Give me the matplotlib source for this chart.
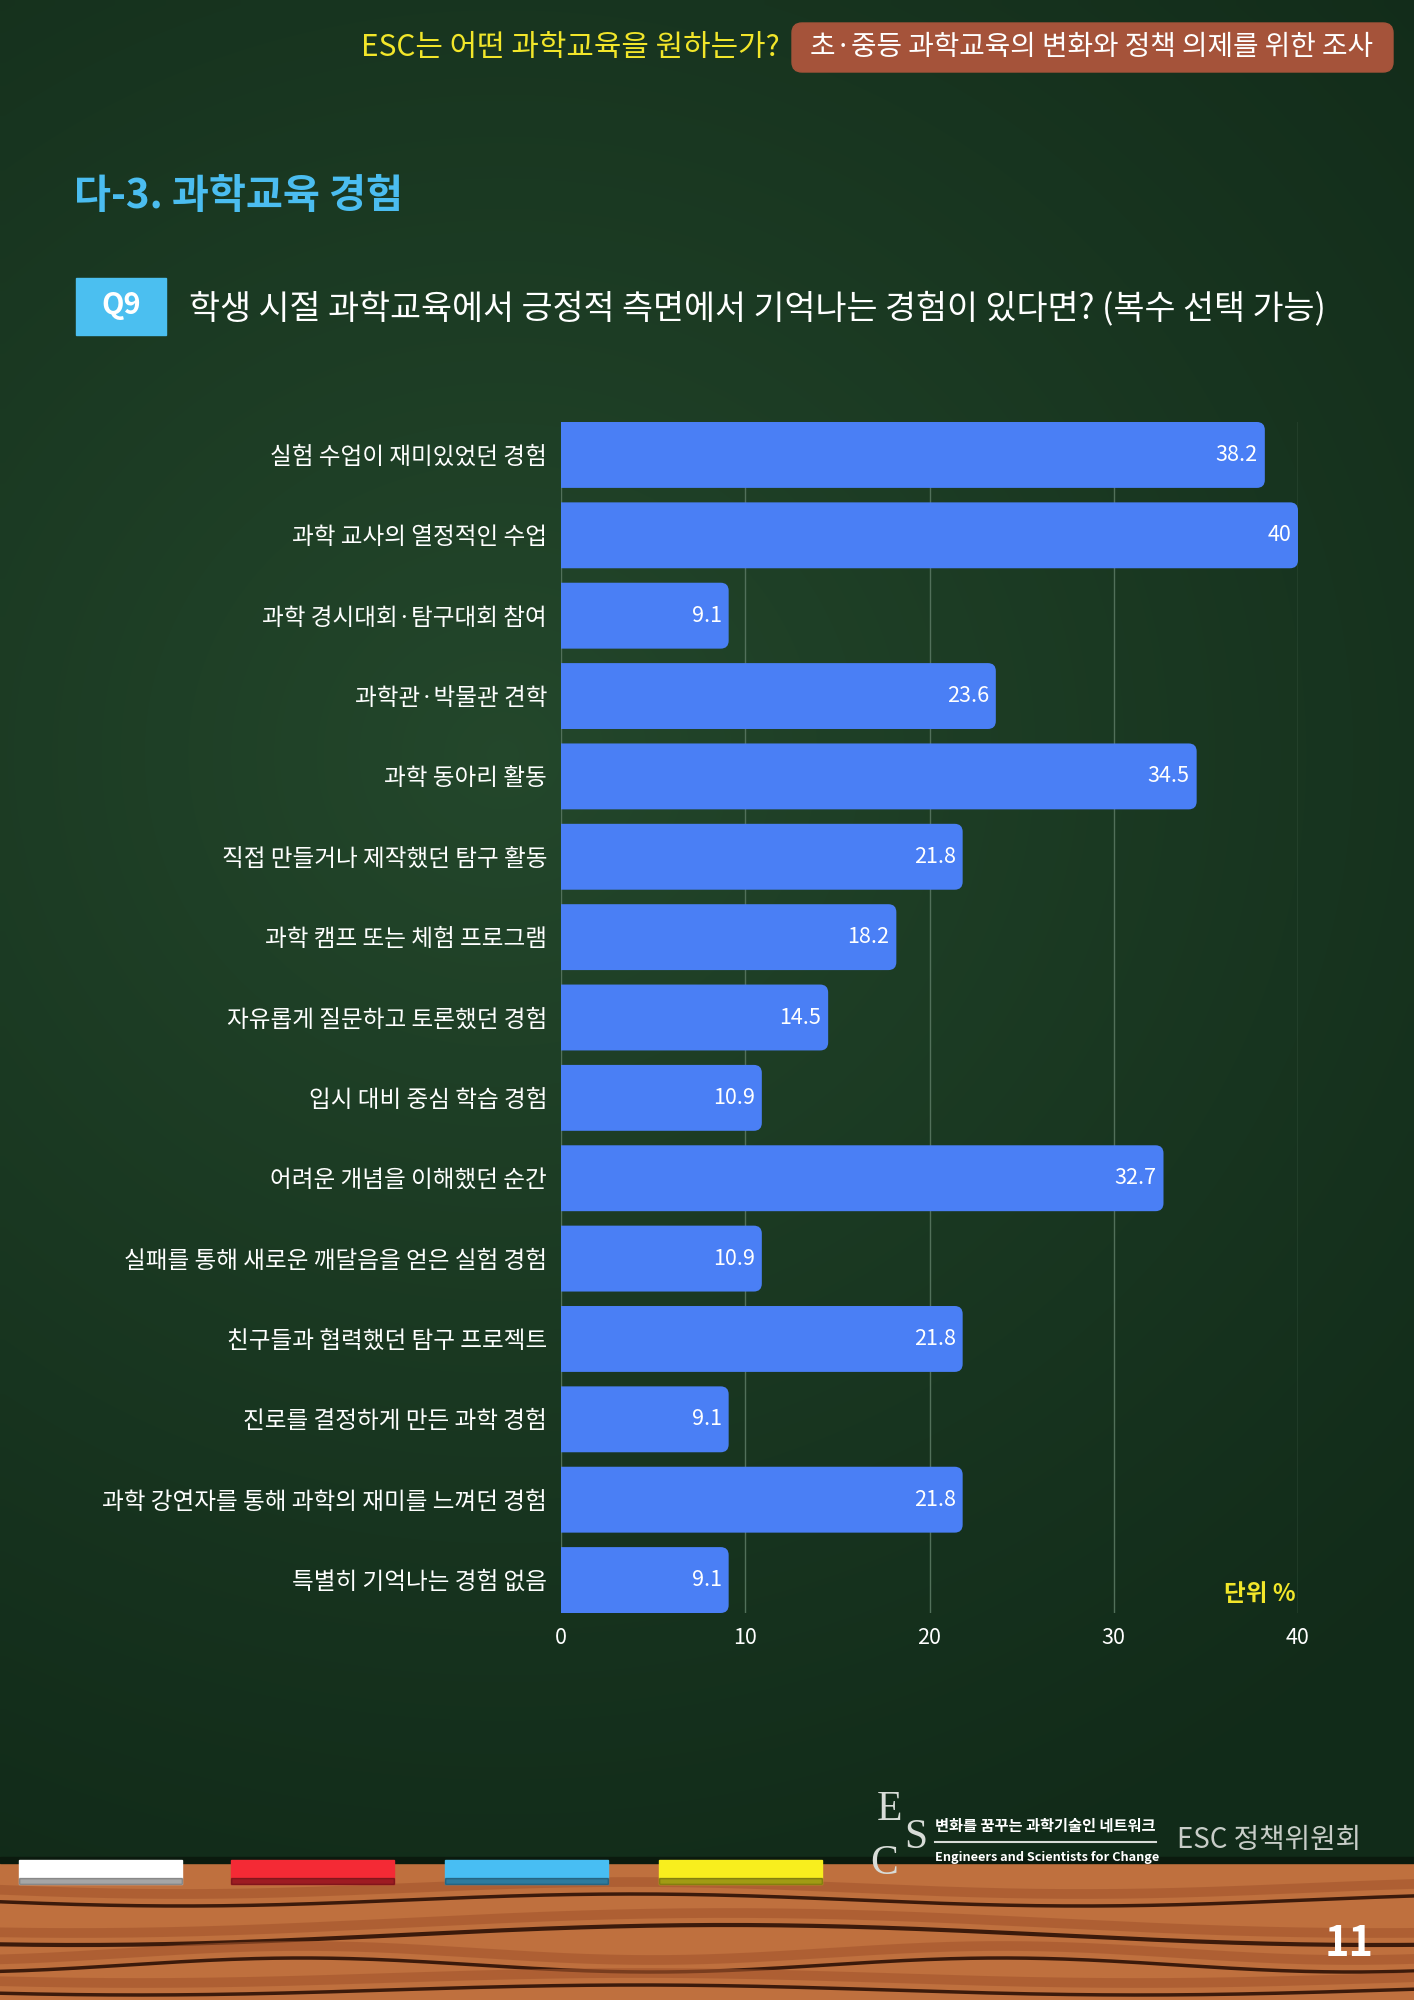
import numpy as np
import matplotlib
matplotlib.use('Agg')
import matplotlib.pyplot as plt
from matplotlib.patches import FancyBboxPatch, Rectangle

plt.rcParams['font.family'] = ['Noto Sans CJK KR', 'DejaVu Sans']

# data
categories = [
    '실험 수업이 재미있었던 경험',
    '과학 교사의 열정적인 수업',
    '과학 경시대회·탐구대회 참여',
    '과학관·박물관 견학',
    '과학 동아리 활동',
    '직접 만들거나 제작했던 탐구 활동',
    '과학 캠프 또는 체험 프로그램',
    '자유롭게 질문하고 토론했던 경험',
    '입시 대비 중심 학습 경험',
    '어려운 개념을 이해했던 순간',
    '실패를 통해 새로운 깨달음을 얻은 실험 경험',
    '친구들과 협력했던 탐구 프로젝트',
    '진로를 결정하게 만든 과학 경험',
    '과학 강연자를 통해 과학의 재미를 느껴던 경험',
    '특별히 기억나는 경험 없음',
]
values = [38.2, 40, 9.1, 23.6, 34.5, 21.8, 18.2, 14.5, 10.9, 32.7, 10.9, 21.8, 9.1, 21.8, 9.1]
xticks = [0, 10, 20, 30, 40]

header_q = 'ESC는 어떤 과학교육을 원하는가?'
header_box = '초·중등 과학교육의 변화와 정책 의제를 위한 조사'
section_title = '다-3. 과학교육 경험'
question = '학생 시절 과학교육에서 긍정적 측면에서 기억나는 경험이 있다면? (복수 선택 가능)'
unit_label = '단위 %'

W, H = 1414, 2000
fig = plt.figure(figsize=(W / 100, H / 100), dpi=100)

# chalkboard background (pixel coords)
bg = fig.add_axes([0, 0, 1, 1], zorder=-2)
bg.set_xlim(0, W)
bg.set_ylim(H, 0)
bg.axis('off')
yy, xx = np.mgrid[0:H:10, 0:W:10]
d = np.hypot((xx - 500) / 1300, (yy - 750) / 1200)
t = np.clip(1 - d, 0, 1) ** 1.1
dark = np.array([0.07, 0.17, 0.10])
light = np.array([0.14, 0.28, 0.17])
img = dark + (light - dark) * t[..., None]
bg.imshow(img, extent=[0, W, H, 0], aspect='auto', interpolation='bilinear')

# wood strip at the bottom
bg.add_patch(Rectangle((0, 1862), W, H - 1862, color='#BF703E', zorder=2))
gx = np.linspace(0, W, 300)
for base, amp, per, ph, lw in [(1900, 6, 900, 0.3, 2.5), (1935, 10, 1300, 1.2, 3),
                               (1965, 7, 700, 2.0, 2.5), (1990, 5, 1000, 0.7, 2.5)]:
    bg.plot(gx, base - 12 + amp * np.sin(2 * np.pi * gx / per + ph), color='#A3552D', lw=7, alpha=0.6, zorder=3)
    bg.plot(gx, base + amp * np.sin(2 * np.pi * gx / per + ph), color='#3B1A0B', lw=lw, zorder=3)
bg.add_patch(Rectangle((0, 1857), W, 6, color='#0B1A0E', zorder=3))

# chalk sticks
for x0, c in [(19, '#FFFFFF'), (231, '#F42A35'), (445, '#48BEF3'), (659, '#F8EE1E')]:
    bg.add_patch(Rectangle((x0, 1860), 163, 24, color=c, zorder=4))
    bg.add_patch(Rectangle((x0, 1878), 163, 6, color='black', alpha=0.35, zorder=5))

# header
bg.text(780, 48, header_q, color='#F2E62A', fontsize=21.5, ha='right', va='center')
bg.add_patch(FancyBboxPatch((792, 23), 601, 49, boxstyle='round,pad=0,rounding_size=10',
                            color='#A5533A', zorder=3))
bg.text(1092, 47, header_box, color='white', fontsize=20, ha='center', va='center', zorder=4)

# section title and question
bg.text(74, 197, section_title, color='#4BBDF0', fontsize=29, fontweight='bold', va='center')
bg.add_patch(Rectangle((76, 278), 90, 57, color='#4BBFF0', zorder=3))
bg.text(121, 305, 'Q9', color='white', fontsize=21, fontweight='bold', ha='center', va='center', zorder=4)
bg.text(189, 309, question, color='white', fontsize=24.3, va='center')

# unit label
bg.text(1296, 1594, unit_label, color='#F2E62A', fontsize=17, fontweight='bold', ha='right', va='center')

# logo
for ch, lx, ly in [('E', 890, 1810), ('S', 916, 1838), ('C', 884, 1864)]:
    bg.text(lx, ly, ch, family='Liberation Serif', color='#D8DCD8', fontsize=30,
            ha='center', va='center', zorder=6)
bg.text(935, 1826, '변화를 꿈꾸는 과학기술인 네트워크', color='white', fontsize=11, fontweight='bold', va='center')
bg.plot([935, 1156], [1842, 1842], color='#D8DCD8', lw=1.5)
bg.text(935, 1857, 'Engineers and Scientists for Change', color='white', fontsize=9.2,
        fontweight='bold', va='center')
bg.text(1177, 1840, 'ESC 정책위원회', color='#C8CDC8', fontsize=20, va='center')

# page number
bg.text(1374, 1944, '11', color='white', fontsize=30, fontweight='bold', ha='right', va='center', zorder=6)

# bar chart
ax = fig.add_axes([561 / W, 1 - 1613 / H, (1298 - 561) / W, (1613 - 422) / H])
ax.patch.set_alpha(0)
n = len(categories)
h = 0.82
ax.set_xlim(0, 40)
ax.set_ylim(n - 1 + h / 2, -h / 2)
px_x = (1298 - 561) / 40
px_y = (1613 - 422) / (n - 1 + h)
for i, v in enumerate(values):
    ax.add_patch(FancyBboxPatch((-1, i - h / 2), v + 1, h,
                                boxstyle='round,pad=0,rounding_size=%f' % (8 / px_x),
                                mutation_aspect=px_x / px_y, color='#4A7FF5', lw=0, zorder=3))
    ax.annotate(f'{v:g}', xy=(v, i), xytext=(-7, 0), textcoords='offset pixels',
                ha='right', va='center', color='white', fontsize=15.5, zorder=4)

ax.set_yticks(range(n))
ax.set_yticklabels(categories)
ax.set_xticks(xticks)
ax.tick_params(axis='both', length=0, colors='white', labelsize=15.5)
ax.tick_params(axis='y', pad=10, labelsize=17)
ax.tick_params(axis='x', pad=10)
for x in xticks:
    ax.axvline(x, color='#52705A', lw=1, zorder=1)
for s in ax.spines.values():
    s.set_visible(False)

fig.savefig('out.png', dpi=100)
